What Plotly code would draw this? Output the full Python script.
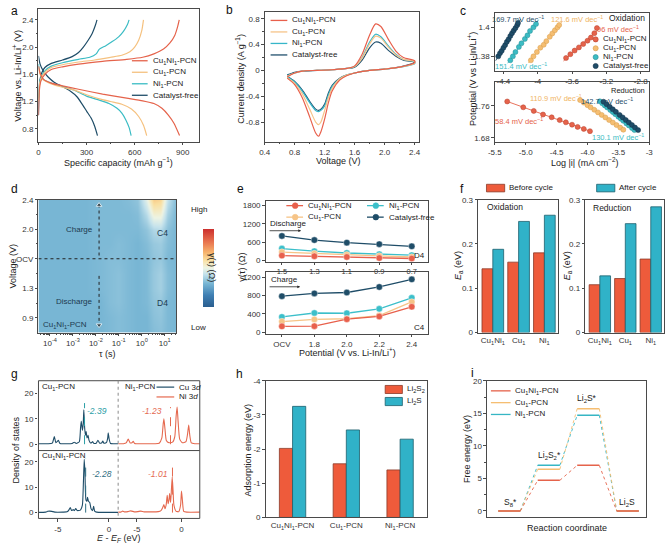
import numpy as np
import plotly.graph_objects as go

W, H = 669, 549
FONT = "Arial, Liberation Sans, sans-serif"
RED = '#e5634b'; YEL = '#f5c17f'; TEAL = '#3bbcc4'; DARK = '#1f4d68'
BEF = '#ee5b3b'; AFT = '#30b2c8'
SUB1 = '<sub>1</sub>'
NAMES = ['Cu' + SUB1 + 'Ni' + SUB1 + '-PCN', 'Cu' + SUB1 + '-PCN', 'Ni' + SUB1 + '-PCN', 'Catalyst-free']
COLS = [RED, YEL, TEAL, DARK]

# ---------------- (a) charge/discharge profiles: (capacity mAh/g, voltage V) ----------------
a_charge = {
    'Cu1Ni1': [(0, 1.0), (5, 1.35), (15, 1.5), (40, 1.6), (80, 1.67), (150, 1.71), (250, 1.75), (400, 1.79), (550, 1.82), (650, 1.85), (720, 1.9), (780, 1.97), (820, 2.06), (850, 2.17), (868, 2.3), (878, 2.4)],
    'Cu1': [(0, 1.2), (5, 1.42), (15, 1.53), (40, 1.63), (80, 1.7), (150, 1.74), (250, 1.78), (350, 1.81), (450, 1.85), (520, 1.88), (570, 1.93), (600, 2.0), (625, 2.1), (645, 2.25), (655, 2.4)],
    'Ni1': [(0, 1.25), (5, 1.45), (15, 1.55), (40, 1.65), (80, 1.72), (150, 1.77), (250, 1.82), (320, 1.85), (360, 1.9), (380, 1.97), (420, 2.02), (460, 2.08), (500, 2.15), (530, 2.23), (555, 2.33), (565, 2.4)],
    'CF': [(0, 1.0), (3, 1.3), (8, 1.5), (20, 1.62), (40, 1.7), (80, 1.76), (150, 1.81), (210, 1.86), (250, 1.92), (280, 2.0), (310, 2.1), (335, 2.2), (355, 2.32), (365, 2.4)],
}
a_discharge = {
    'Cu1Ni1': [(0, 1.72), (10, 1.62), (30, 1.53), (80, 1.47), (150, 1.43), (250, 1.38), (400, 1.31), (550, 1.25), (650, 1.21), (720, 1.17), (770, 1.1), (810, 1.0), (845, 0.88), (880, 0.7)],
    'Cu1': [(0, 1.7), (10, 1.6), (30, 1.52), (80, 1.46), (150, 1.41), (220, 1.37), (300, 1.3), (380, 1.24), (450, 1.2), (520, 1.16), (580, 1.09), (625, 0.98), (655, 0.85), (675, 0.7)],
    'Ni1': [(0, 1.75), (10, 1.62), (30, 1.53), (80, 1.47), (150, 1.42), (220, 1.37), (300, 1.28), (380, 1.22), (440, 1.17), (490, 1.1), (520, 1.03), (545, 0.93), (565, 0.82), (578, 0.7)],
    'CF': [(0, 1.87), (10, 1.75), (30, 1.65), (60, 1.56), (100, 1.48), (150, 1.42), (200, 1.35), (240, 1.27), (270, 1.17), (300, 1.06), (330, 0.95), (350, 0.84), (368, 0.7)],
}
KEYS = ['Cu1Ni1', 'Cu1', 'Ni1', 'CF']

# ---------------- (b) CV curves ----------------
b_v_an = [0.7, 0.8, 0.9, 1.1, 1.3, 1.5, 1.6, 1.7, 1.8, 1.88, 1.95, 2.05, 2.15, 2.25, 2.4]
b_i_an = {
    'Cu1Ni1': [-0.10, -0.04, -0.01, 0.0, 0.01, 0.03, 0.07, 0.25, 0.55, 0.72, 0.68, 0.48, 0.30, 0.20, 0.15],
    'Cu1': [-0.09, -0.04, -0.01, 0.0, 0.01, 0.03, 0.06, 0.19, 0.41, 0.53, 0.50, 0.36, 0.24, 0.17, 0.14],
    'Ni1': [-0.08, -0.04, -0.01, 0.0, 0.01, 0.03, 0.06, 0.20, 0.44, 0.56, 0.52, 0.38, 0.25, 0.17, 0.13],
    'CF': [-0.07, -0.03, -0.01, 0.0, 0.01, 0.03, 0.05, 0.16, 0.35, 0.44, 0.42, 0.31, 0.22, 0.16, 0.13],
}
b_v_ca = [2.4, 2.2, 2.0, 1.8, 1.6, 1.5, 1.4, 1.3, 1.25, 1.2, 1.15, 1.12, 1.08, 1.0, 0.9, 0.8, 0.7]
b_i_ca = {
    'Cu1Ni1': [0.12, 0.05, 0.02, 0.0, -0.04, -0.08, -0.15, -0.32, -0.5, -0.75, -0.95, -1.02, -0.97, -0.72, -0.42, -0.22, -0.12],
    'Cu1': [0.11, 0.05, 0.02, 0.0, -0.04, -0.07, -0.13, -0.28, -0.42, -0.62, -0.80, -0.84, -0.80, -0.60, -0.36, -0.20, -0.11],
    'Ni1': [0.10, 0.05, 0.02, 0.0, -0.04, -0.07, -0.13, -0.25, -0.38, -0.55, -0.62, -0.64, -0.62, -0.50, -0.32, -0.18, -0.10],
    'CF': [0.12, 0.05, 0.02, 0.0, -0.04, -0.07, -0.12, -0.23, -0.35, -0.52, -0.60, -0.62, -0.60, -0.48, -0.30, -0.17, -0.09],
}

# ---------------- (c) Tafel points ----------------
c_ox = {
    'CF': ([-4.46, -4.44, -4.42, -4.40, -4.38, -4.36, -4.34, -4.32, -4.30, -4.28, -4.26, -4.24, -4.23],
           [1.3800, 1.3822, 1.3838, 1.3860, 1.3878, 1.3900, 1.3918, 1.3940, 1.3960, 1.3978, 1.3995, 1.4015, 1.4030]),
    'Ni1': ([-4.32, -4.29, -4.26, -4.22, -4.19, -4.15, -4.12, -4.09, -4.05, -4.02],
            [1.3773, 1.3800, 1.3830, 1.3865, 1.3890, 1.3920, 1.3945, 1.3975, 1.4000, 1.4023]),
    'Cu1': ([-4.08, -4.05, -4.01, -3.97, -3.93, -3.90, -3.86, -3.83, -3.80, -3.77, -3.75],
            [1.3773, 1.3800, 1.3830, 1.3860, 1.3880, 1.3905, 1.3935, 1.3958, 1.3980, 1.4000, 1.4016]),
    'Cu1Ni1': ([-3.67, -3.62, -3.57, -3.52, -3.47, -3.42, -3.38, -3.34, -3.31],
               [1.3789, 1.3815, 1.3840, 1.3862, 1.3885, 1.3908, 1.3930, 1.3960, 1.3995]),
}
c_red = {
    'Cu1Ni1': ([-5.30, -5.04, -4.87, -4.72, -4.58, -4.45, -4.35, -4.25, -4.16, -4.06, -3.96],
               [1.7706, 1.7560, 1.7470, 1.7380, 1.7310, 1.7240, 1.7185, 1.7125, 1.7070, 1.7020, 1.6963]),
    'Cu1': ([-4.12, -4.06, -4.00, -3.95, -3.89, -3.83, -3.77, -3.71, -3.65, -3.59, -3.53, -3.47, -3.42],
            [1.7740, 1.7677, 1.7613, 1.7560, 1.7497, 1.7433, 1.7370, 1.7307, 1.7243, 1.7180, 1.7116, 1.7053, 1.7000]),
    'Ni1': ([-3.80, -3.76, -3.72, -3.68, -3.63, -3.59, -3.55, -3.50, -3.46, -3.42, -3.37, -3.33, -3.28, -3.24],
            [1.7710, 1.7659, 1.7607, 1.7556, 1.7491, 1.7440, 1.7389, 1.7324, 1.7273, 1.7221, 1.7157, 1.7106, 1.7041, 1.6990]),
    'CF': ([-3.74, -3.69, -3.64, -3.59, -3.54, -3.48, -3.43, -3.38, -3.33, -3.28, -3.23, -3.18],
           [1.7700, 1.7637, 1.7573, 1.7510, 1.7446, 1.7370, 1.7307, 1.7243, 1.7180, 1.7117, 1.7053, 1.6990]),
}

# ---------------- (d) DRT map (log10 tau, voltage index) ----------------
d_logtau = [-4.5, -3.5, -2.5, -1.8, -1.4, -1.0, -0.6, -0.2, 0.2, 0.5, 0.8, 1.1, 1.5]
d_vidx = [-0.5, 0, 0.5, 1, 1.5, 2, 2.5, 3, 3.5, 4]
d_vlabels = ['0.9', '1.3', 'OCV', '2.0', '2.4']
d_z = [
    [0.30, 0.30, 0.30, 0.30, 0.31, 0.32, 0.31, 0.30, 0.30, 0.32, 0.33, 0.31, 0.30],
    [0.30, 0.30, 0.30, 0.30, 0.31, 0.32, 0.31, 0.30, 0.30, 0.33, 0.34, 0.31, 0.30],
    [0.30, 0.30, 0.30, 0.30, 0.32, 0.33, 0.31, 0.30, 0.31, 0.34, 0.35, 0.31, 0.30],
    [0.30, 0.30, 0.30, 0.31, 0.32, 0.33, 0.31, 0.30, 0.31, 0.35, 0.37, 0.32, 0.30],
    [0.30, 0.30, 0.30, 0.31, 0.32, 0.33, 0.31, 0.30, 0.31, 0.35, 0.37, 0.32, 0.30],
    [0.30, 0.30, 0.30, 0.31, 0.32, 0.32, 0.31, 0.30, 0.31, 0.34, 0.35, 0.31, 0.30],
    [0.30, 0.30, 0.30, 0.31, 0.31, 0.32, 0.31, 0.30, 0.32, 0.35, 0.36, 0.32, 0.30],
    [0.30, 0.30, 0.30, 0.31, 0.31, 0.31, 0.31, 0.31, 0.34, 0.39, 0.40, 0.33, 0.30],
    [0.30, 0.30, 0.30, 0.31, 0.31, 0.31, 0.31, 0.32, 0.40, 0.52, 0.52, 0.37, 0.30],
    [0.30, 0.30, 0.30, 0.31, 0.31, 0.31, 0.32, 0.34, 0.48, 0.64, 0.62, 0.42, 0.31],
]

# ---------------- (e) gamma(tau) ----------------
e_pot_d = ['1.5', '1.3', '1.1', '0.9', '0.7']
e_pot_c = ['OCV', '1.8', '2.0', '2.2', '2.4']
e_d4 = {'Cu1Ni1': [160, 140, 115, 80, 65], 'Cu1': [275, 225, 185, 150, 115],
        'Ni1': [390, 305, 245, 205, 175], 'CF': [805, 670, 585, 535, 465]}
e_c4 = {'Cu1Ni1': [130, 135, 285, 345, 555], 'Cu1': [235, 280, 295, 365, 660],
        'Ni1': [335, 420, 415, 510, 750], 'CF': [785, 845, 865, 985, 1150]}

# ---------------- (f) activation energy ----------------
f_cats = ['Cu' + SUB1 + 'Ni' + SUB1, 'Cu' + SUB1, 'Ni' + SUB1]
f_ox_before = [0.144, 0.159, 0.180]
f_ox_after = [0.188, 0.251, 0.265]
f_red_before = [0.108, 0.122, 0.166]
f_red_after = [0.128, 0.246, 0.284]

# ---------------- (g) PDOS (E - EF, DOS) ----------------
g_cu1_cu = [(-7.0, 0.2), (-6.0, 0.2), (-5.55, 0.4), (-5.35, 3.0), (-5.2, 0.6), (-5.08, 1.0), (-4.95, 1.5), (-4.8, 0.3), (-4.3, 0.2), (-3.6, 0.3), (-3.4, 0.8), (-3.2, 0.3), (-2.9, 1.0), (-2.78, 6.5), (-2.71, 9.0), (-2.6, 5.5), (-2.52, 8.0), (-2.46, 13.5), (-2.38, 6.5), (-2.3, 3.5), (-2.23, 5.0), (-2.15, 2.5), (-2.08, 3.0), (-2.04, 3.5), (-1.95, 1.5), (-1.8, 0.5), (-1.65, 0.8), (-1.6, 1.0), (-1.5, 0.4), (-1.25, 0.4), (-1.08, 1.5), (-0.9, 0.4), (-0.7, 0.6), (-0.6, 1.2), (-0.5, 0.4), (-0.25, 0.6), (-0.12, 2.5), (-0.07, 4.5), (0.02, 2.0), (0.15, 0.3), (0.5, 0.2), (0.9, 0.2)]
g_ni1_ni = [(-7.1, 0.2), (-6.5, 0.2), (-6.2, 0.5), (-5.97, 2.0), (-5.75, 0.5), (-5.55, 0.6), (-5.41, 1.1), (-5.25, 0.3), (-4.0, 0.2), (-3.0, 0.2), (-2.5, 0.4), (-2.2, 2.5), (-2.05, 8.0), (-1.97, 10.0), (-1.85, 6.0), (-1.7, 1.5), (-1.4, 0.6), (-1.0, 0.8), (-0.75, 3.0), (-0.6, 11.0), (-0.49, 14.6), (-0.38, 9.0), (-0.2, 2.0), (0.1, 0.6), (0.5, 1.0), (0.68, 4.0), (0.81, 7.5), (0.93, 3.5), (1.1, 0.5), (1.5, 0.2), (2.05, 0.2)]
g_cuni_cu = [(-7.0, 0.1), (-6.2, 0.2), (-6.0, 0.5), (-5.8, 0.6), (-5.6, 0.5), (-5.3, 0.2), (-4.5, 0.2), (-4.1, 0.3), (-3.9, 1.2), (-3.79, 2.0), (-3.65, 0.8), (-3.5, 1.2), (-3.38, 0.8), (-3.25, 1.6), (-3.1, 0.8), (-2.8, 1.0), (-2.6, 3.0), (-2.5, 12.0), (-2.42, 21.0), (-2.35, 16.0), (-2.25, 5.0), (-2.15, 4.5), (-2.1, 6.0), (-2.0, 4.5), (-1.88, 4.0), (-1.75, 1.5), (-1.6, 0.8), (-1.5, 2.5), (-1.4, 0.6), (-1.2, 0.2), (-0.5, 0.1), (0.9, 0.1)]
g_cuni_ni = [(-7.1, 0.2), (-6.8, 0.2), (-6.6, 0.6), (-6.4, 0.3), (-6.0, 0.4), (-5.67, 0.7), (-5.3, 0.3), (-4.9, 0.4), (-4.56, 0.6), (-4.2, 0.3), (-3.5, 0.3), (-2.6, 0.4), (-2.3, 0.8), (-2.1, 2.0), (-1.97, 3.2), (-1.85, 1.5), (-1.72, 3.0), (-1.6, 6.8), (-1.5, 3.5), (-1.4, 5.0), (-1.33, 7.5), (-1.22, 4.0), (-1.13, 9.0), (-1.04, 14.0), (-0.95, 9.0), (-0.85, 3.0), (-0.6, 0.5), (-0.3, 0.4), (-0.1, 3.0), (0.0, 8.5), (0.1, 5.0), (0.25, 0.5), (0.6, 0.2), (2.05, 0.2)]
g_dband = [-2.39, -1.23, -2.28, -1.01]
g_dband_top = [16.2, 14.6, 21.4, 18.2]

# ---------------- (h) adsorption energy ----------------
h_cats = NAMES[:3]
h_li2s2 = [-2.02, -1.57, -1.39]
h_li2s = [-3.25, -2.56, -2.29]

# ---------------- (i) free energy ----------------
i_states = ['S<sub>8</sub>*', 'Li<sub>2</sub>S<sub>2</sub>*', 'Li<sub>2</sub>S*', 'Li<sub>2</sub>S']
i_energy = {'Cu1Ni1': [0, 4.7, 7.0, 0], 'Cu1': [0, 6.4, 15.7, 0], 'Ni1': [0, 7.0, 14.7, 0]}

# =====================================================================
fig = go.Figure()
layout = dict(width=W, height=H, margin=dict(l=0, r=0, t=0, b=0), paper_bgcolor='white',
              plot_bgcolor='white', showlegend=False, barmode='overlay',
              font=dict(family=FONT, size=8, color='#222'))
annotations = []
shapes = []
n = 0


def px(x):
    return x / W


def py(y):
    return 1 - y / H


AX = dict(showline=True, mirror=True, linecolor='#4a4a4a', linewidth=1, ticks='outside', ticklen=2.5,
          tickwidth=1, tickcolor='#4a4a4a', tickfont=dict(size=8, color='#333', family=FONT),
          showgrid=False, zeroline=False)
MINOR = dict(ticks='outside', ticklen=1.5, tickwidth=1, tickcolor='#4a4a4a')


def axes(l, t, r, b, xo=None, yo=None):
    global n
    n += 1
    s = '' if n == 1 else str(n)
    xa = dict(AX); xa.update(domain=[px(l), px(r)], anchor='y' + s)
    ya = dict(AX); ya.update(domain=[py(b), py(t)], anchor='x' + s)
    if xo:
        xa.update(xo)
    if yo:
        ya.update(yo)
    layout['xaxis' + s] = xa
    layout['yaxis' + s] = ya
    return 'x' + s, 'y' + s


def T(text, x, y, size=8, color='#222', xa='center', ya='middle', angle=0):
    annotations.append(dict(text=text, x=px(x), y=py(y), xref='paper', yref='paper', showarrow=False,
                            font=dict(size=size, color=color, family=FONT), xanchor=xa, yanchor=ya,
                            textangle=angle))


def LN(x0, x1, y0, y1, color, width=1.2, dash=None):
    shapes.append(dict(type='line', xref='paper', yref='paper', x0=px(x0), x1=px(x1), y0=py(y0), y1=py(y1),
                       line=dict(color=color, width=width, dash=dash)))


def CIRC(cx, cy, r, color, edge=None):
    shapes.append(dict(type='circle', xref='paper', yref='paper', x0=px(cx - r), x1=px(cx + r),
                       y0=py(cy + r), y1=py(cy - r), fillcolor=color,
                       line=dict(color=edge or color, width=0.6)))


def RECT(x0, y0, x1, y1, color, edge, width=0.8, dash=None, fill=True):
    shapes.append(dict(type='rect', xref='paper', yref='paper', x0=px(x0), x1=px(x1), y0=py(y1), y1=py(y0),
                       fillcolor=color if fill else 'rgba(0,0,0,0)', line=dict(color=edge, width=width, dash=dash)))


# panel letters
for lt, (lx, ly) in zip('abcdefghi', [(8, 7), (226, 6), (464, 7), (8, 188), (237, 188), (463, 188),
                                      (8, 376), (236, 376), (473, 375)]):
    T(lt, lx, ly, size=12, color='#111')

# ---------------- (a) ----------------
xa_, ya_ = axes(32, 5, 195, 140,
                dict(range=[0, 1000], tickvals=[0, 300, 600, 900], minor=dict(MINOR, tickvals=[150, 450, 750])),
                dict(range=[0.61, 2.56], tickvals=[0.8, 1.2, 1.6, 2.0, 2.4],
                     ticktext=['0.8', '1.2', '1.6', '2.0', '2.4'], minor=dict(MINOR, tickvals=[1.0, 1.4, 1.8, 2.2])))
for k, c in zip(reversed(KEYS), reversed(COLS)):
    for seg in (a_charge[k], a_discharge[k]):
        fig.add_trace(go.Scatter(x=[p[0] for p in seg], y=[p[1] for p in seg], mode='lines',
                                 line=dict(color=c, width=1.2, shape='spline', smoothing=0.6),
                                 xaxis=xa_, yaxis=ya_, hoverinfo='skip'))
for j, (nm, c) in enumerate(zip(NAMES, COLS)):
    yy = 57.7 + j * 11.7
    LN(127, 143, yy, yy, c, 1.3)
    T(nm, 146, yy, 8, '#222', xa='left')
T('Specific capacity (mAh g<sup>\u22121</sup>)', 113, 161, 9, '#222')
T('Voltage vs. Li-In/Li<sup>+</sup> (V)', 10, 73, 9, '#222', angle=-90)

# ---------------- (b) ----------------
xb, yb = axes(262, 8, 419, 140,
              dict(range=[0.4, 2.46], tickvals=[0.4, 0.8, 1.2, 1.6, 2.0, 2.4],
                   ticktext=['0.4', '0.8', '1.2', '1.6', '2.0', '2.4'],
                   minor=dict(MINOR, tickvals=[0.6, 1.0, 1.4, 1.8, 2.2])),
              dict(range=[-1.105, 0.907], tickvals=[-0.8, -0.4, 0, 0.4, 0.8],
                   ticktext=['-0.8', '-0.4', '0', '0.4', '0.8'], minor=dict(MINOR, tickvals=[-0.6, -0.2, 0.2, 0.6])))
b_cols = ['#e8604c', '#f6c48a', '#36b6c9', '#22516e']
for k, c in zip(reversed(KEYS), reversed(b_cols)):
    xs = b_v_an + b_v_ca
    ys = b_i_an[k] + b_i_ca[k]
    fig.add_trace(go.Scatter(x=xs, y=ys, mode='lines', line=dict(color=c, width=1.2, shape='spline', smoothing=0.7),
                             xaxis=xb, yaxis=yb, hoverinfo='skip'))
for j, (nm, c) in enumerate(zip(NAMES, b_cols)):
    yy = 16.7 + j * 11.7
    LN(268, 285, yy, yy, c, 1.3)
    T(nm, 288, yy, 8, '#222', xa='left')
T('Voltage (V)', 337, 160, 9)
T('Current density (A g<sup>\u22121</sup>)', 237, 76, 9, angle=-90)

# ---------------- (c) ----------------
xc1, yc1 = axes(496, 9, 653, 68,
                dict(range=[-4.5, -2.7], tickvals=[-4.4, -4.0, -3.6, -3.2, -2.8],
                     ticktext=['-4.4', '-4', '-3.6', '-3.2', '-2.8']),
                dict(range=[1.37, 1.41], tickvals=[1.38, 1.40], ticktext=['1.38', '1.4']))
xc2, yc2 = axes(496, 79, 653, 140,
                dict(range=[-5.5, -3.0], tickvals=[-5.5, -5.0, -4.5, -4.0, -3.5, -3.0],
                     ticktext=['-5.5', '-5.0', '-4.5', '-4.0', '-3.5', '-3']),
                dict(range=[1.67, 1.82], tickvals=[1.68, 1.76], ticktext=['1.68', '1.76']))
ccol = {'Cu1Ni1': '#e5634b', 'Cu1': '#f5be72', 'Ni1': '#3bbcc4', 'CF': '#1f4d68'}
cedge = {'Cu1Ni1': '#b8432f', 'Cu1': '#d79c4c', 'Ni1': '#2a8f96', 'CF': '#12334a'}
for data, (xx, yy_) in ((c_ox, (xc1, yc1)), (c_red, (xc2, yc2))):
    for k in ['Cu1Ni1', 'Cu1', 'Ni1', 'CF']:
        xs, ys = data[k]
        m, b0 = np.polyfit(xs, ys, 1)
        fx = np.array([min(xs) - 0.03, max(xs) + 0.03])
        fig.add_trace(go.Scatter(x=fx, y=m * fx + b0, mode='lines', line=dict(color=ccol[k], width=0.9),
                                 xaxis=xx, yaxis=yy_, hoverinfo='skip'))
        fig.add_trace(go.Scatter(x=xs, y=ys, mode='markers',
                                 marker=dict(color=ccol[k], size=5, line=dict(color=cedge[k], width=0.5)),
                                 xaxis=xx, yaxis=yy_, hoverinfo='skip'))
T('169.7 mV dec<sup>\u22121</sup>', 520, 15, 7.5, '#1f4d68')
T('121.6 mV dec<sup>\u22121</sup>', 580, 15, 7.5, '#f0b463')
T('96 mV dec<sup>\u22121</sup>', 621, 25, 7.5, '#e5634b')
T('151.4 mV dec<sup>\u22121</sup>', 523, 63, 7.5, '#3bbcc4')
T('Oxidation', 651, 14, 8.5, '#222', xa='right')
for j, (nm, k) in enumerate(zip(NAMES, KEYS)):
    yy = 36 + j * 9
    CIRC(598.5, yy, 2.6, ccol[k], cedge[k])
    T(nm, 604, yy, 8, '#222', xa='left')
T('110.9 mV dec<sup>\u22121</sup>', 558, 96, 7.5, '#f0b463')
T('142.7 mV dec<sup>\u22121</sup>', 610, 99, 7.5, '#1f4d68')
T('58.4 mV dec<sup>\u22121</sup>', 521, 119, 7.5, '#e5634b')
T('130.1 mV dec<sup>\u22121</sup>', 621, 135, 7.5, '#3bbcc4')
T('Reduction', 651, 88, 7.5, '#222', xa='right', ya='middle')
T('Log |i| (mA cm<sup>\u22122</sup>)', 587, 161, 9)
T('Potential (V vs Li-In/Li<sup>+</sup>)', 473, 76, 9, angle=-90)

# ---------------- (d) ----------------
minor_log = [k + np.log10(m) for k in range(-5, 2) for m in range(2, 10)]
minor_log = [v for v in minor_log if -4.5 <= v <= 1.5]
xd_, yd_ = axes(32, 199, 172, 334,
                dict(range=[-4.5, 1.5], tickvals=[-4, -3, -2, -1, 0, 1],
                     ticktext=['10<sup>-4</sup>', '10<sup>-3</sup>', '10<sup>-2</sup>', '10<sup>-1</sup>',
                               '10<sup>0</sup>', '10<sup>1</sup>'], minor=dict(MINOR, tickvals=minor_log)),
                dict(range=[-0.5, 4], tickvals=list(range(len(d_vlabels))), ticktext=d_vlabels,
                     minor=dict(MINOR, tickvals=[0.5, 1.5, 2.5, 3.5])))
cscale = [[0, '#2a5e8f'], [0.15, '#3f7fb3'], [0.3, '#78b6d4'], [0.42, '#c4e2ec'], [0.5, '#eef4e4'],
          [0.6, '#fae0a2'], [0.7, '#f6b36d'], [0.82, '#ea7a52'], [1, '#cc2f2e']]
fig.add_trace(go.Heatmap(x=d_logtau, y=d_vidx, z=d_z, zmin=0, zmax=1, zsmooth='best', colorscale=cscale,
                         xaxis=xd_, yaxis=yd_, hoverinfo='skip',
                         colorbar=dict(x=px(189), xanchor='left', y=py(268), yanchor='middle', len=100 / H,
                                       lenmode='fraction', thickness=11, thicknessmode='pixels',
                                       showticklabels=False, ticks='', outlinewidth=0)))
fig.add_trace(go.Scatter(x=[-4.5, 1.5], y=[2, 2], mode='lines', line=dict(color='#222', width=1, dash='dot'),
                         xaxis=xd_, yaxis=yd_, hoverinfo='skip'))
fig.add_trace(go.Scatter(x=[-1.86, -1.86], y=[2.11, 3.82], mode='lines+markers',
                         line=dict(color='#222', width=1, dash='dot'),
                         marker=dict(symbol=['line-ew', 'triangle-up'], size=[0, 5], color='#222'),
                         xaxis=xd_, yaxis=yd_, hoverinfo='skip'))
fig.add_trace(go.Scatter(x=[-1.86, -1.86], y=[1.42, -0.25], mode='lines+markers',
                         line=dict(color='#222', width=1, dash='dot'),
                         marker=dict(symbol=['line-ew', 'triangle-down'], size=[0, 5], color='#222'),
                         xaxis=xd_, yaxis=yd_, hoverinfo='skip'))
T('Charge', 89, 229.5, 8, '#1d3a4f', xa='right')
T('Discharge', 89, 302.5, 8, '#1d3a4f', xa='right')
T('C4', 158, 233, 8.5, '#1d3a4f')
T('D4', 158, 304, 8.5, '#1d3a4f')
T('Cu' + SUB1 + 'Ni' + SUB1 + '-PCN', 35, 326, 8, '#1d3a4f', xa='left')
T('High', 195, 209, 8)
T('Low', 195, 329, 8)
T('\u03b3(\u03c4) (\u03a9)', 209, 268, 9, angle=90)
T('\u03c4 (s)', 102, 356, 9)
T('Voltage (V)', 6, 266, 9, angle=-90)

# ---------------- (e) ----------------
xe1, ye1 = axes(263, 200, 428, 262,
                dict(range=[-0.5, 4.5], tickvals=list(range(len(e_pot_d))), ticktext=e_pot_d,
                     ticklen=2, tickfont=dict(size=7.5, color='#333', family=FONT)),
                dict(range=[-40, 1960], tickvals=[0, 600, 1200, 1800]))
xe2, ye2 = axes(263, 272, 428, 335,
                dict(range=[-0.5, 4.5], tickvals=list(range(len(e_pot_c))), ticktext=e_pot_c),
                dict(range=[-25, 1320], tickvals=[0, 400, 800, 1200]))
e_cols = ['#e8604c', '#f6c487', '#3cbfca', '#1f4d68']
for data, (xx, yy_) in ((e_d4, (xe1, ye1)), (e_c4, (xe2, ye2))):
    for k, c in zip(reversed(KEYS), reversed(e_cols)):
        fig.add_trace(go.Scatter(x=list(range(len(data[k]))), y=data[k], mode='lines+markers',
                                 line=dict(color=c, width=1.3), marker=dict(size=6.5, color=c, line=dict(color='white', width=0.4)),
                                 xaxis=xx, yaxis=yy_, hoverinfo='skip'))
for nm, c, lx, ly in [(NAMES[0], e_cols[0], 284, 205), (NAMES[2], e_cols[2], 366, 205),
                      (NAMES[1], e_cols[1], 284, 216.7), (NAMES[3], e_cols[3], 366, 216.7)]:
    LN(lx, lx + 17, ly, ly, c, 1.3)
    CIRC(lx + 9, ly, 2.9, c)
    T(nm, lx + 20, ly, 8, '#222', xa='left')
T('Discharge', 265, 223.5, 8, '#222', xa='left')
annotations.append(dict(x=px(299), y=py(230.5), ax=-33, ay=0, xref='paper', yref='paper', text='',
                        showarrow=True, arrowhead=2, arrowsize=0.7, arrowwidth=0.8, arrowcolor='#222'))
T('Charge', 266, 280.5, 8, '#222', xa='left')
annotations.append(dict(x=px(298), y=py(287.5), ax=-32, ay=0, xref='paper', yref='paper', text='',
                        showarrow=True, arrowhead=2, arrowsize=0.7, arrowwidth=0.8, arrowcolor='#222'))
T('D4', 419, 256, 8, '#222')
T('C4', 419, 328.5, 8, '#222')
T('Potential (V vs. Li-In/Li<sup>+</sup>)', 346, 354, 9)
T('\u03b3(\u03c4) (\u03a9)', 239, 268, 9, angle=-90)

# ---------------- (f) ----------------
fy = dict(range=[0, 0.3], tickvals=[0, 0.1, 0.2, 0.3], ticktext=['0', '0.1', '0.2', '0.3'])
fx = dict(range=[-0.57, 2.52], tickvals=list(range(len(f_cats))), ticktext=f_cats, ticks='')
xf1, yf1 = axes(479, 199, 560, 334, fx, fy)
xf2, yf2 = axes(588, 199, 668, 334, fx, fy)
fpos = list(range(len(f_cats)))
for (bv, av), (xx, yy_) in (((f_ox_before, f_ox_after), (xf1, yf1)), ((f_red_before, f_red_after), (xf2, yf2))):
    fig.add_trace(go.Bar(x=fpos, y=bv, width=0.42, offset=-0.42, marker=dict(color=BEF, line=dict(color='#8a3a28', width=0.8)),
                         xaxis=xx, yaxis=yy_, hoverinfo='skip'))
    fig.add_trace(go.Bar(x=fpos, y=av, width=0.42, offset=0.0, marker=dict(color=AFT, line=dict(color='#1d5f6d', width=0.8)),
                         xaxis=xx, yaxis=yy_, hoverinfo='skip'))
RECT(487.5, 183.3, 506, 191, BEF, '#8a3a28')
T('Before cycle', 508.5, 187, 8, '#222', xa='left')
RECT(599.5, 183.3, 618, 191, AFT, '#1d5f6d')
T('After cycle', 620.5, 187, 8, '#222', xa='left')
T('Oxidation', 485.5, 206.5, 8.5, '#222', xa='left')
T('Reduction', 593.5, 207, 8.5, '#222', xa='left')
T('<i>E</i><sub>a</sub> (eV)', 459, 266, 9, angle=-90)
T('<i>E</i><sub>a</sub> (eV)', 570, 266, 9, angle=-90)

# ---------------- (g) ----------------
gx_noline = dict(showline=False, mirror=False)
gyt = dict(showline=False, mirror=False, range=[-2.5, 25], tickvals=[0, 10, 20])
gyb = dict(showline=False, mirror=False, range=[-2.3, 24.5], tickvals=[0, 10, 20])
xg1, yg1 = axes(32, 383, 113, 454, dict(gx_noline, range=[-6.9, 0.9], showticklabels=False, ticks=''), gyt)
xg2, yg2 = axes(113, 383, 196, 454, dict(gx_noline, range=[-7.1, 2.05], showticklabels=False, ticks=''),
                dict(gyt, showticklabels=False, ticks=''))
xg3, yg3 = axes(32, 454, 113, 523, dict(gx_noline, range=[-6.9, 0.9], tickvals=[-5, 0], ticktext=['-5', '0']), gyb)
xg4, yg4 = axes(113, 454, 196, 523, dict(gx_noline, range=[-7.1, 2.05], tickvals=[-5, 0], ticktext=['-5', '0']),
                dict(gyb, showticklabels=False, ticks=''))
CU3D = '#1f4d68'; NI3D = '#e5694f'
g_sets = [(g_cu1_cu, CU3D, xg1, yg1, '#2b9ea6'), (g_ni1_ni, NI3D, xg2, yg2, NI3D),
          (g_cuni_cu, CU3D, xg3, yg3, '#2f6e82'), (g_cuni_ni, NI3D, xg4, yg4, NI3D)]
for (pts, c, xx, yy_, dc), dbc, dtop in zip(g_sets, g_dband, g_dband_top):
    fig.add_trace(go.Scatter(x=[p[0] for p in pts], y=[p[1] for p in pts], mode='lines',
                             line=dict(color=c, width=1.1, shape='spline', smoothing=0.5),
                             xaxis=xx, yaxis=yy_, hoverinfo='skip'))
    fig.add_trace(go.Scatter(x=[dbc, dbc], y=[0, dtop], mode='lines', line=dict(color=dc, width=1, dash='dash'),
                             xaxis=xx, yaxis=yy_, hoverinfo='skip'))
RECT(32, 383, 196, 523, 'rgba(0,0,0,0)', '#4a4a4a', 1, fill=False)
LN(32, 196, 454, 454, '#4a4a4a', 1)
LN(113, 113, 383, 523, '#8a8a8a', 1, 'dot')
T('Cu' + SUB1 + '-PCN', 34, 389.5, 8, '#222', xa='left')
T('Ni' + SUB1 + '-PCN', 118, 389.5, 8, '#222', xa='left')
T('Cu' + SUB1 + 'Ni' + SUB1 + '-PCN', 34, 460, 8, '#222', xa='left')
LN(152, 170, 389.5, 389.5, CU3D, 1.2)
T('Cu 3<i>d</i>', 172.5, 389.5, 8, '#222', xa='left')
LN(152, 170, 399.5, 399.5, NI3D, 1.2)
T('Ni 3<i>d</i>', 172.5, 399.5, 8, '#222', xa='left')
T('<i>-2.39</i>', 91.5, 414, 8.5, '#2b9ea6')
T('<i>-1.23</i>', 147.5, 414, 8.5, NI3D)
T('<i>-2.28</i>', 96.5, 478, 8.5, '#2f6e82')
T('<i>-1.01</i>', 154, 478, 8.5, NI3D)
T('<i>E</i> - <i>E</i><sub><i>F</i></sub> (eV)', 113, 543, 9)
T('Density of states', 9, 453, 9, angle=-90)

# ---------------- (h) ----------------
xh, yh = axes(263, 383, 427, 522,
              dict(range=[-0.5, 2.5], tickvals=list(range(len(h_cats))), ticktext=h_cats, ticks=''),
              dict(range=[0, -4], tickvals=[0, -1, -2, -3, -4], ticktext=['0', '-1', '-2', '-3', '-4']))
hpos = list(range(len(h_cats)))
fig.add_trace(go.Bar(x=hpos, y=h_li2s2, width=0.245, offset=-0.245, marker=dict(color=BEF, line=dict(color='#8a3a28', width=0.8)),
                     xaxis=xh, yaxis=yh, hoverinfo='skip'))
fig.add_trace(go.Bar(x=hpos, y=h_li2s, width=0.245, offset=0.0, marker=dict(color=AFT, line=dict(color='#1d5f6d', width=0.8)),
                     xaxis=xh, yaxis=yh, hoverinfo='skip'))
RECT(384.5, 387.8, 402, 396, BEF, '#8a3a28')
T('Li<sub>2</sub>S<sub>2</sub>', 404.5, 391.5, 8, '#222', xa='left')
RECT(384.5, 400, 402, 408.3, AFT, '#1d5f6d')
T('Li<sub>2</sub>S', 404.5, 404, 8, '#222', xa='left')
T('Adsorption energy (eV)', 245, 453, 9, angle=-90)

# ---------------- (i) ----------------
xi, yi = axes(488, 383, 650, 522,
              dict(range=[-0.565, 3.47], showticklabels=False, ticks=''),
              dict(range=[-1, 20], tickvals=[0, 5, 10, 15, 20], minor=dict(MINOR, tickvals=[2.5, 7.5, 12.5, 17.5])))
hw = 0.28
i_cols = {'Cu1Ni1': '#e5634b', 'Cu1': '#f5be72', 'Ni1': '#36b6c4'}
for k in ['Ni1', 'Cu1', 'Cu1Ni1']:
    ev = i_energy[k]
    sx, sy, dx, dy = [], [], [], []
    for s in range(len(ev)):
        sx += [s - hw, s + hw, None]
        sy += [ev[s], ev[s], None]
        if s + 1 < len(ev):
            dx += [s + hw, s + 1 - hw, None]
            dy += [ev[s], ev[s + 1], None]
    fig.add_trace(go.Scatter(x=dx, y=dy, mode='lines', line=dict(color=i_cols[k], width=0.9, dash='dot'),
                             xaxis=xi, yaxis=yi, hoverinfo='skip'))
    fig.add_trace(go.Scatter(x=sx, y=sy, mode='lines', line=dict(color=i_cols[k], width=1.5),
                             xaxis=xi, yaxis=yi, hoverinfo='skip'))
for j, (nm, k) in enumerate(zip(NAMES[:3], ['Cu1Ni1', 'Cu1', 'Ni1'])):
    yy = 393.3 + j * 12
    LN(492, 512, yy, yy, i_cols[k], 1.3)
    T(nm, 514, yy, 8, '#222', xa='left')
T(i_states[0], 512, 506.5, 8.5)
T(i_states[1], 552, 459, 8.5)
T(i_states[2], 589.5, 401.5, 8.5)
T(i_states[3], 630, 506.5, 8.5)
T('Reaction coordinate', 569, 533, 9)
T('Free energy (eV)', 467, 452, 9, angle=-90)

layout['annotations'] = annotations
layout['shapes'] = shapes
fig.update_layout(**layout)
fig.write_html('out.html')
